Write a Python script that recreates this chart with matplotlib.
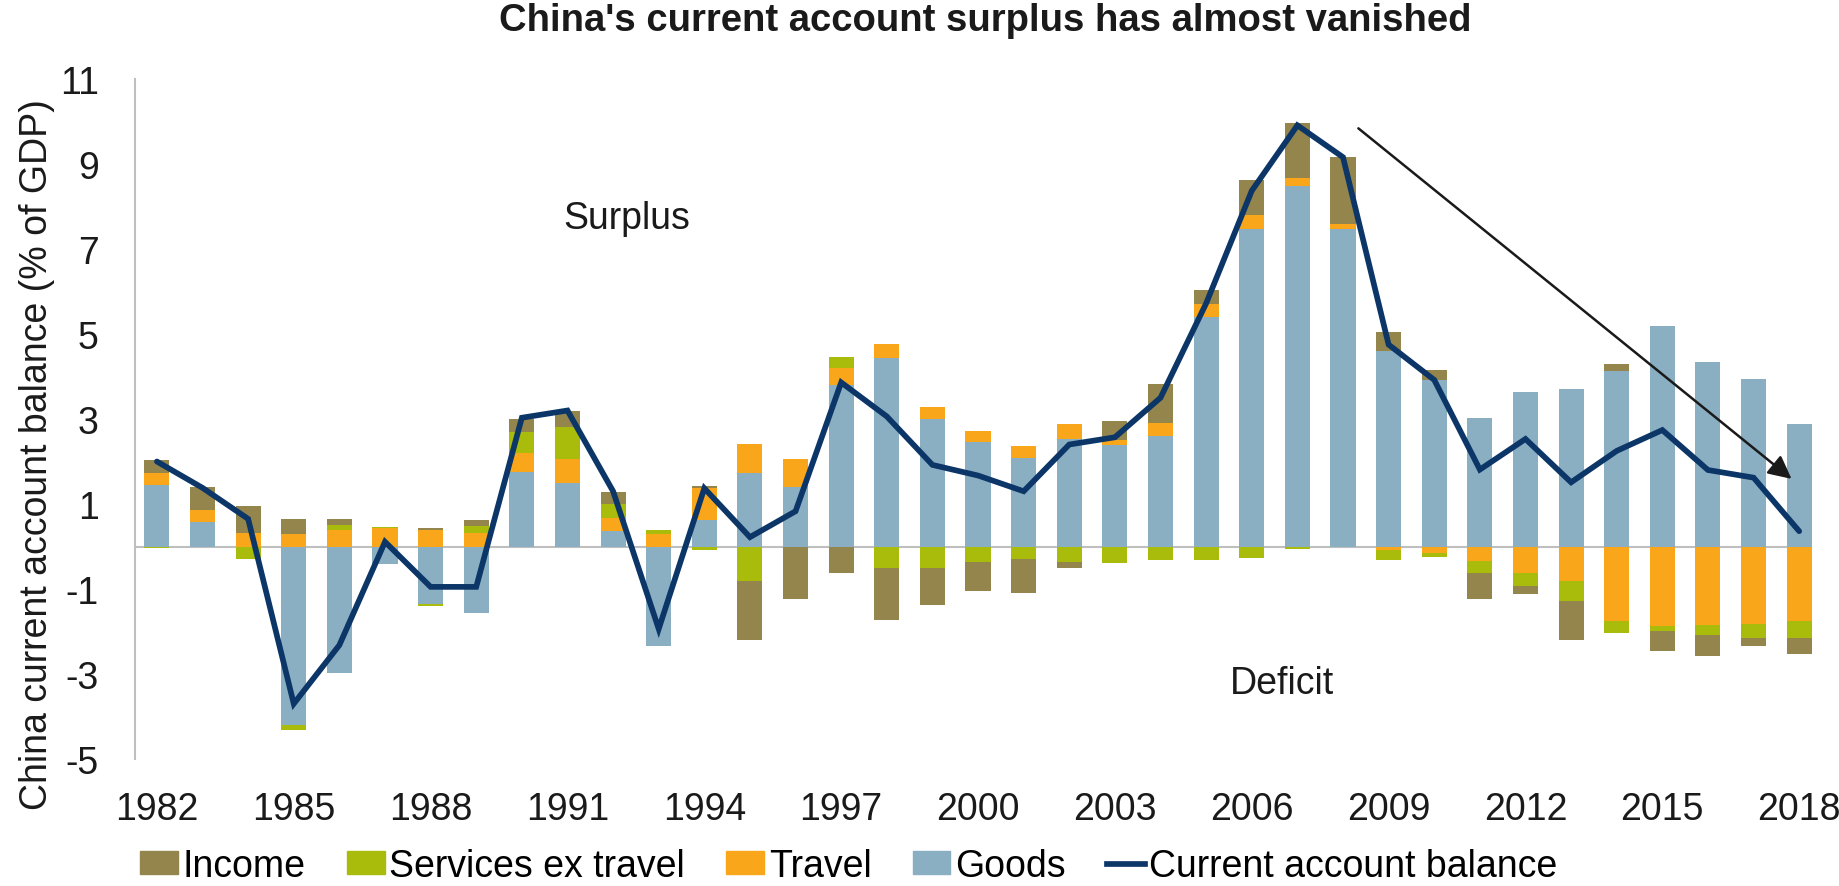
import numpy as np
import matplotlib.pyplot as plt
from matplotlib.patches import Patch
from matplotlib.lines import Line2D

plt.rcParams['font.family'] = ['Liberation Sans', 'DejaVu Sans']
plt.rcParams['axes.unicode_minus'] = False

years = np.arange(1982, 2019)

# components of the current account, % of GDP
goods = [1.44, 0.58, 0.00, -4.20, -2.98, -0.41, -1.36, -1.57, 1.75, 1.49,
         0.37, -2.33, 0.62, 1.73, 1.40, 3.80, 4.43, 3.00, 2.46, 2.08,
         2.54, 2.38, 2.60, 5.39, 7.46, 8.49, 7.48, 4.60, 3.92, 3.03,
         3.64, 3.70, 4.14, 5.18, 4.35, 3.94, 2.89]
travel = [0.30, 0.29, 0.31, 0.30, 0.39, 0.43, 0.38, 0.31, 0.44, 0.56,
          0.31, 0.30, 0.76, 0.69, 0.66, 0.40, 0.33, 0.29, 0.26, 0.29,
          0.35, 0.13, 0.31, 0.32, 0.33, 0.19, 0.11, -0.08, -0.15, -0.33,
          -0.62, -0.81, -1.75, -1.86, -1.85, -1.83, -1.75]
services = [-0.03, -0.02, -0.30, -0.12, 0.12, 0.04, -0.03, 0.17, 0.50, 0.76,
            0.32, 0.10, -0.08, -0.81, 0.00, 0.25, -0.51, -0.51, -0.36, -0.30,
            -0.37, -0.38, -0.32, -0.31, -0.27, -0.06, 0.00, -0.23, -0.10, -0.29,
            -0.32, -0.48, -0.29, -0.12, -0.24, -0.33, -0.41]
income = [0.29, 0.54, 0.64, 0.35, 0.13, 0.00, 0.06, 0.14, 0.32, 0.39,
          0.29, 0.00, 0.04, -1.39, -1.24, -0.62, -1.22, -0.87, -0.69, -0.80,
          -0.13, 0.44, 0.91, 0.33, 0.83, 1.29, 1.57, 0.45, 0.24, -0.62,
          -0.18, -0.90, 0.15, -0.48, -0.48, -0.17, -0.36]
balance = [2.00, 1.38, 0.65, -3.70, -2.32, 0.11, -0.95, -0.95, 3.03, 3.20,
           1.30, -1.94, 1.37, 0.22, 0.83, 3.86, 3.06, 1.92, 1.67, 1.30,
           2.40, 2.57, 3.50, 5.72, 8.37, 9.91, 9.16, 4.75, 3.92, 1.81,
           2.53, 1.51, 2.25, 2.74, 1.80, 1.62, 0.36]

series = [('Goods', goods, '#8AAFC2'),
          ('Travel', travel, '#F9A61A'),
          ('Services ex travel', services, '#A9BB0B'),
          ('Income', income, '#94854C')]
line_color = '#0B3667'
txt = '#1A1A1A'
fs = 27

fig = plt.figure(figsize=(18.39, 8.87), dpi=100)
ax = fig.add_axes([135 / 1839, 127 / 887, 1687 / 1839, 680 / 887])

# stack positive and negative parts separately, goods nearest zero
pos_base = np.zeros(len(years))
neg_base = np.zeros(len(years))
for name, vals, col in series:
    v = np.array(vals)
    pos = np.where(v > 0, v, 0)
    neg = np.where(v < 0, v, 0)
    ax.bar(years, pos, 0.55, bottom=pos_base, color=col, zorder=2)
    ax.bar(years, neg, 0.55, bottom=neg_base, color=col, zorder=2)
    pos_base += pos
    neg_base += neg

ax.hlines(0, 1981.52, 2018.27, color='#BFBFBF', lw=1.5, zorder=1)
ax.plot(years, balance, color=line_color, lw=4.1, zorder=3,
        solid_joinstyle='miter', solid_capstyle='round')

ax.annotate('', xy=(2017.88, 1.55), xytext=(2008.29, 9.88),
            arrowprops=dict(arrowstyle='-|>', color=txt, lw=1.8,
                            mutation_scale=35), zorder=4)

ax.text(1992.3, 7.72, 'Surplus', fontsize=fs, ha='center', va='center',
        color=txt)
ax.text(2006.67, -3.22, 'Deficit', fontsize=fs, ha='center', va='center',
        color=txt)

ax.set_xlim(1981.52, 2018.5)
ax.set_ylim(-5, 11)
ax.set_xticks(np.arange(1982, 2019, 3))
ax.set_yticks(np.arange(-5, 12, 2))
ax.tick_params(length=0, labelsize=fs, colors=txt)
ax.tick_params(axis='x', pad=23)
ax.tick_params(axis='y', pad=26)
for s in ['top', 'right', 'bottom']:
    ax.spines[s].set_visible(False)
ax.spines['left'].set_color('#BFBFBF')
ax.spines['left'].set_linewidth(1.5)

ax.set_ylabel('China current account balance (% of GDP)', fontsize=fs,
              color=txt)
ax.yaxis.set_label_coords(-0.0474, 0.4485)

fig.text(985 / 1839, 1 - 21 / 887,
         "China's current account surplus has almost vanished",
         fontsize=27.5, fontweight='bold', ha='center', va='center',
         color=txt)

handles = [Patch(color='#94854C', label='Income'),
           Patch(color='#A9BB0B', label='Services ex travel'),
           Patch(color='#F9A61A', label='Travel'),
           Patch(color='#8AAFC2', label='Goods'),
           Line2D([], [], color=line_color, lw=4.1, label='Current account balance')]
fig.legend(handles=handles, loc='center', ncol=5, frameon=False,
           bbox_to_anchor=(849 / 1839, 1 - 867 / 887), fontsize=fs,
           handlelength=1.0, handleheight=0.55, handletextpad=0.13,
           columnspacing=1.1, borderpad=0, borderaxespad=0)

fig.savefig('out.png', dpi=100)
